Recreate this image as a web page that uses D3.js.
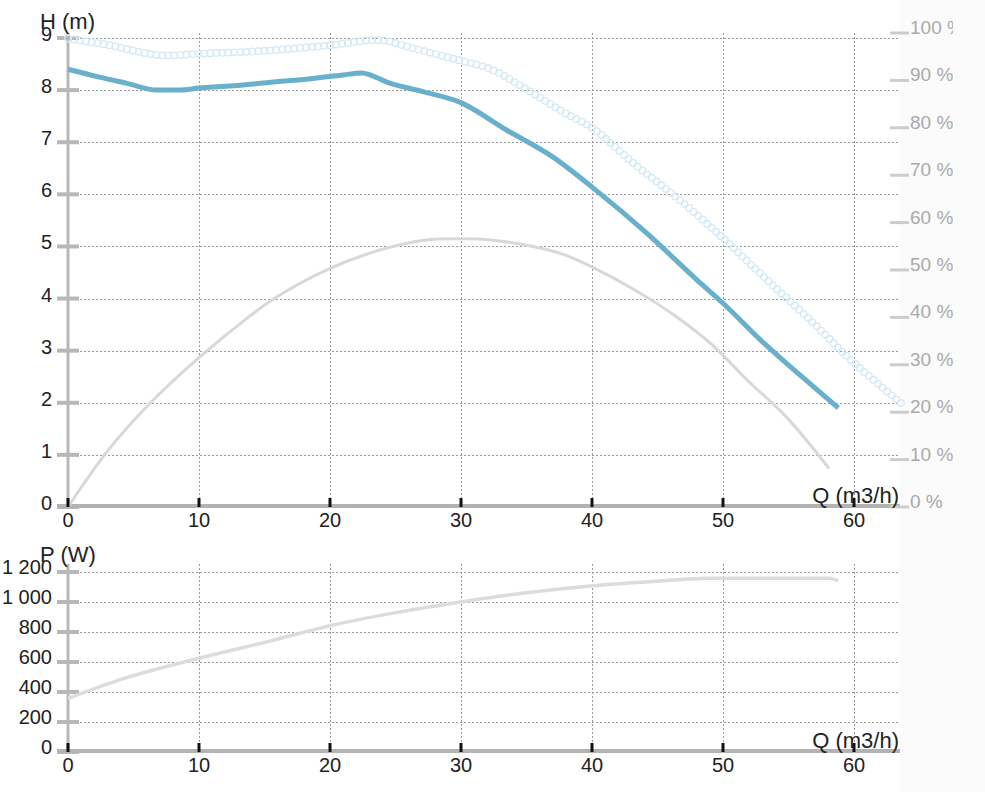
<!DOCTYPE html>
<html><head><meta charset="utf-8">
<script src="https://cdn.jsdelivr.net/npm/d3@7"></script>
<style>
html,body{margin:0;padding:0;background:#fbfbfb;}
svg{display:block;font-family:"Liberation Sans",Arial,Helvetica,sans-serif;}
</style></head><body>
<svg id="c" width="953" height="792"></svg>
<script>
// ---- tick labels / categories ----
const qTicks = [0, 10, 20, 30, 40, 50, 60];
const hTicks = [0, 1, 2, 3, 4, 5, 6, 7, 8, 9];
const pctTicks = [0, 10, 20, 30, 40, 50, 60, 70, 80, 90, 100];
const pTicks = [0, 200, 400, 600, 800, 1000, 1200];

// ---- series: head curve H(Q) [m] ----
const qHead = [0, 2.4, 4.5, 6.8, 8.5, 10, 12.9, 15.9, 18.5, 21, 22.4, 24.6, 27.1, 29.9, 33.5, 37, 40.1, 44.2, 48, 50, 53.1, 56.9, 58.8];
const hHead = [8.40, 8.25, 8.13, 8.00, 8.00, 8.04, 8.09, 8.16, 8.22, 8.29, 8.33, 8.13, 7.97, 7.77, 7.23, 6.72, 6.12, 5.25, 4.36, 3.91, 3.15, 2.31, 1.90];

// ---- series: max head curve (ring markers) [m] ----
const qMax = [0, 3.2, 7.0, 10.1, 14.7, 20, 23.8, 26.4, 29.9, 32.2, 35.3, 37.8, 40.1, 43.2, 46.7, 50, 53.1, 56.9, 59.9, 63.6];
const hMax = [8.99, 8.86, 8.67, 8.70, 8.75, 8.86, 8.96, 8.80, 8.57, 8.41, 7.97, 7.58, 7.26, 6.59, 5.89, 5.16, 4.42, 3.53, 2.79, 1.99];

// ---- series: efficiency [%] ----
const qEta = [0, 3.1, 6.3, 10, 13.7, 15.8, 19.8, 23.9, 27.2, 30, 32.1, 35.4, 37.8, 40.1, 43.2, 46.2, 49.3, 51.8, 54.9, 58.1];
const eta = [0, 12.1, 22, 31.5, 39.9, 44.1, 50.1, 54.3, 56.3, 56.6, 56.4, 55.0, 53.3, 50.5, 45.9, 40.6, 33.9, 26.9, 18.8, 8.1];

// ---- series: power P(Q) [W] ----
const qPow = [0, 4.3, 10, 15.75, 20, 24.7, 30, 35, 40.1, 45.2, 48.9, 53.5, 58.1, 58.8];
const pPow = [358, 491, 625, 747, 842, 924, 1000, 1062, 1109, 1140, 1158, 1158, 1158, 1142];

const svg = d3.select('#c');
const x = d3.scaleLinear().domain([0, 60]).range([68, 854]);
const xEnd = 900;
const yH = d3.scaleLinear().domain([0, 9]).range([507, 38]);
const yPct = d3.scaleLinear().domain([0, 100]).range([507, 33]);
const yP = d3.scaleLinear().domain([0, 1200]).range([752, 572]);
const topT = 33, topB = 564;

// backgrounds
svg.append('rect').attr('x', 0).attr('y', 0).attr('width', xEnd).attr('height', 792).attr('fill', '#ffffff');

const gridStyle = s => s.attr('stroke', '#9a9a9a').attr('stroke-width', 1).attr('stroke-dasharray', '2,2').attr('fill', 'none');

function panel(yScale, ticks, top, bottom) {
  const g = svg.append('g');
  g.selectAll('.vg').data(qTicks.slice(1)).join('line')
    .attr('x1', d => x(d) + 0.5).attr('x2', d => x(d) + 0.5)
    .attr('y1', top).attr('y2', bottom).call(gridStyle);
  g.selectAll('.hg').data(ticks.slice(1)).join('line')
    .attr('x1', 68).attr('x2', xEnd)
    .attr('y1', d => Math.round(yScale(d)) + 0.5).attr('y2', d => Math.round(yScale(d)) + 0.5).call(gridStyle);
  g.append('line').attr('x1', 68).attr('x2', 68).attr('y1', top).attr('y2', bottom)
    .attr('stroke', '#b8b8b8').attr('stroke-width', 3);
  g.selectAll('.lt').data(ticks).join('line')
    .attr('x1', 57).attr('x2', 79)
    .attr('y1', d => yScale(d)).attr('y2', d => yScale(d))
    .attr('stroke', '#b8b8b8').attr('stroke-width', 4);
  g.append('line').attr('x1', 57).attr('x2', xEnd).attr('y1', bottom - 1).attr('y2', bottom - 1)
    .attr('stroke', '#b3b3b3').attr('stroke-width', 4);
  return g;
}

panel(yH, hTicks, topT, 507);
panel(yP, pTicks, topB, 752);

// right % axis ticks
svg.selectAll('.rt').data(pctTicks).join('line')
  .attr('x1', 890).attr('x2', 909)
  .attr('y1', d => yPct(d)).attr('y2', d => yPct(d))
  .attr('stroke', '#cccccc').attr('stroke-width', 3);

// ---- curves ----
const curve = d3.curveCatmullRom.alpha(0.5);
const lineEta = d3.line().x((d, i) => x(qEta[i])).y(d => yPct(d)).curve(curve);
svg.append('path').attr('d', lineEta(eta)).attr('fill', 'none')
  .attr('stroke', '#d8d8d8').attr('stroke-width', 3).attr('stroke-linejoin', 'round');

// ring-marker curve
const lineMax = d3.line().x((d, i) => x(qMax[i])).y(d => yH(d)).curve(curve);
const maxPath = svg.append('path').attr('d', lineMax(hMax)).attr('fill', 'none').attr('stroke', 'none');
const len = maxPath.node().getTotalLength();
const step = 6;
const ringPts = d3.range(0, len + 0.01, step).map(l => maxPath.node().getPointAtLength(l));
svg.append('g').selectAll('circle').data(ringPts).join('circle')
  .attr('cx', d => d.x).attr('cy', d => d.y).attr('r', 3.3)
  .attr('fill', 'none').attr('stroke', '#d3e9f5').attr('stroke-width', 1.3);

const lineHead = d3.line().x((d, i) => x(qHead[i])).y(d => yH(d)).curve(d3.curveMonotoneX);
svg.append('path').attr('d', lineHead(hHead)).attr('fill', 'none')
  .attr('stroke', '#68b0cb').attr('stroke-width', 5).attr('stroke-linejoin', 'round');

const linePow = d3.line().x((d, i) => x(qPow[i])).y(d => yP(d)).curve(d3.curveMonotoneX);
svg.append('path').attr('d', linePow(pPow)).attr('fill', 'none')
  .attr('stroke', '#dcdcdc').attr('stroke-width', 3.5).attr('stroke-linejoin', 'round');

// black x ticks
[506, 751].forEach(yb => {
  svg.selectAll(null).data(qTicks).join('line')
    .attr('x1', d => x(d)).attr('x2', d => x(d))
    .attr('y1', yb - 8).attr('y2', yb + 1)
    .attr('stroke', '#111').attr('stroke-width', 3);
});

// ---- labels ----
const fmtP = d => d3.format(',')(d).replace(/,/g, ' ');
svg.selectAll('.hl').data(hTicks).join('text')
  .attr('x', 52).attr('y', d => yH(d) + 3).attr('text-anchor', 'end')
  .attr('font-size', 20).attr('fill', '#222').text(d => d);
svg.selectAll('.pl').data(pTicks).join('text')
  .attr('x', 52).attr('y', d => yP(d) + 2).attr('text-anchor', 'end')
  .attr('font-size', 20).attr('fill', '#222').text(fmtP);
svg.selectAll('.rl').data(pctTicks).join('text')
  .attr('x', 910).attr('y', d => yPct(d) + 1)
  .attr('font-size', 19).attr('fill', '#aaaaaa').text(d => d + ' %');
[527, 772].forEach(yb => {
  svg.selectAll(null).data(qTicks).join('text')
    .attr('x', d => x(d)).attr('y', yb).attr('text-anchor', 'middle')
    .attr('font-size', 20).attr('fill', '#222').text(d => d);
});
// titles
svg.append('text').attr('x', 40).attr('y', 29).attr('font-size', 22).attr('fill', '#222').text('H (m)');
svg.append('text').attr('x', 40).attr('y', 562).attr('font-size', 22).attr('fill', '#222').text('P (W)');
svg.append('text').attr('x', 899).attr('y', 503).attr('text-anchor', 'end').attr('font-size', 22).attr('fill', '#222').text('Q (m3/h)');
svg.append('text').attr('x', 899).attr('y', 748).attr('text-anchor', 'end').attr('font-size', 22).attr('fill', '#222').text('Q (m3/h)');
</script>
</body></html>
